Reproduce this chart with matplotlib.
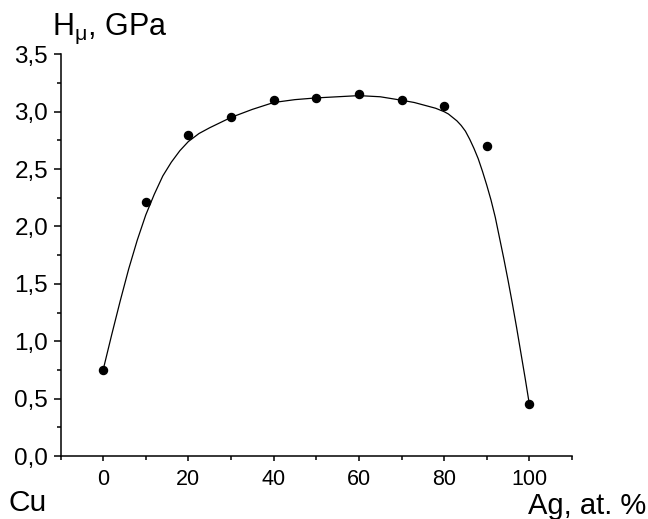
"""Microhardness of Cu-Ag films versus silver content."""

import matplotlib

matplotlib.use("Agg")
import matplotlib.pyplot as plt
from matplotlib.ticker import FuncFormatter, MultipleLocator

plt.rcParams["font.family"] = ["Liberation Sans", "DejaVu Sans"]
plt.rcParams["mathtext.fontset"] = "custom"
plt.rcParams["mathtext.rm"] = "Liberation Sans"
plt.rcParams["mathtext.it"] = "Liberation Sans"

# measured points
ag_pct = [0, 10, 20, 30, 40, 50, 60, 70, 80, 90, 100]
hardness = [0.75, 2.21, 2.80, 2.95, 3.10, 3.12, 3.15, 3.10, 3.05, 2.70, 0.45]

# fitted curve
curve_x = [0, 2, 4, 6, 8, 10, 12, 14, 16, 18, 20, 22.5, 25, 30, 35, 40, 45, 50,
           55, 60, 65, 70, 73, 76, 78, 80, 81, 82, 83, 84, 85, 86, 87, 88, 89,
           90, 91, 92, 93, 94, 95, 96, 97, 98, 99, 100]
curve_y = [0.75, 1.055, 1.35, 1.63, 1.88, 2.10, 2.28, 2.44, 2.56, 2.66, 2.74, 2.81,
           2.86, 2.95, 3.02, 3.08, 3.105, 3.12, 3.13, 3.14, 3.13, 3.10, 3.08, 3.05,
           3.03, 3.00, 2.98, 2.95, 2.92, 2.88, 2.83, 2.76, 2.68, 2.59, 2.48,
           2.36, 2.23, 2.08, 1.90, 1.72, 1.53, 1.33, 1.12, 0.90, 0.68, 0.45]

fig = plt.figure(figsize=(6.48, 5.19), dpi=100)
ax = fig.add_axes([60.5 / 648, 63 / 519, (572 - 60.5) / 648, (456 - 54.3) / 519])

ax.plot(curve_x, curve_y, color="black", lw=0.9)
ax.plot(ag_pct, hardness, "o", color="black", ms=5.8)

ax.set_xlim(-10, 110)
ax.set_ylim(0, 3.5)
ax.xaxis.set_major_locator(MultipleLocator(20))
ax.xaxis.set_minor_locator(MultipleLocator(10))
ax.yaxis.set_major_locator(MultipleLocator(0.5))
ax.yaxis.set_minor_locator(MultipleLocator(0.25))
ax.yaxis.set_major_formatter(FuncFormatter(lambda v, _: f"{v:.1f}".replace(".", ",")))

for side in ("top", "right"):
    ax.spines[side].set_visible(False)
for side in ("left", "bottom"):
    ax.spines[side].set_linewidth(1.1)

ax.tick_params(axis="x", which="major", direction="out", length=3.6, width=1.1,
               labelsize=15.5, pad=6)
ax.tick_params(axis="x", which="minor", direction="out", length=2.8, width=1.1)
ax.tick_params(axis="y", which="major", direction="out", length=5, width=1.1,
               labelsize=17.5, pad=4)
ax.tick_params(axis="y", which="minor", direction="out", length=3, width=1.1)

fig.text(52 / 648, 1 - 35 / 519, r"H$_{\mu}$, GPa", fontsize=22, ha="left", va="baseline")
fig.text(8 / 648, 1 - 511 / 519, "Cu", fontsize=21.5, ha="left", va="baseline")
fig.text(646 / 648, 1 - 514 / 519, "Ag, at. %", fontsize=21, ha="right", va="baseline")

fig.savefig("out.png", dpi=100)
